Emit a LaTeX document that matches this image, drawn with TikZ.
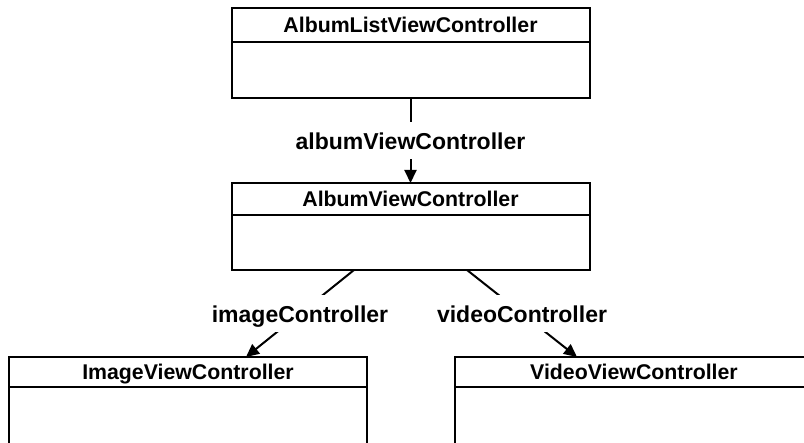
\documentclass[tikz,border=0pt]{standalone}
\usepackage{fontspec}
\setmainfont{Liberation Sans}
\usetikzlibrary{arrows.meta}
\begin{document}
\begin{tikzpicture}[x=1pt,y=-1pt,
  lw/.style={line width=2pt},
  hdrtxt/.style={font=\fontsize{21.3}{25}\bfseries\selectfont,text height=17pt,text depth=2pt},
  lbltxt/.style={font=\fontsize{23}{27}\bfseries\selectfont,text height=18pt,text depth=0pt},
  hdr/.style={draw,lw,outer sep=0pt,minimum width=358pt,inner sep=0pt,hdrtxt},
  bodybox/.style={draw,lw,outer sep=0pt,minimum width=358pt,inner sep=0pt,anchor=north},
  lbl/.style={fill=white,inner xsep=2pt,inner ysep=0pt,minimum height=37pt,lbltxt},
  arr/.style={lw,-{Triangle[length=13pt,width=12pt]}}]
\useasboundingbox (0,0) rectangle (804,443);
\clip (0,0) rectangle (804,443);
% top box
\node[hdr,minimum height=34pt] (alv) at (410.5,25) {AlbumListViewController};
\node[bodybox,minimum height=56pt] (alvb) at (alv.south) {};
% second box
\node[hdr,minimum height=32pt] (alb) at (410.5,199) {AlbumViewController};
\node[bodybox,minimum height=55pt] (albb) at (alb.south) {};
% bottom boxes
\node[hdr,minimum height=30pt] (img) at (188,372) {ImageViewController};
\node[bodybox,minimum height=90pt] (imgb) at (img.south) {};
\node[hdr,minimum height=30pt] (vid) at (634,372) {VideoViewController};
\node[bodybox,minimum height=90pt] (vidb) at (vid.south) {};
% connector end points
\coordinate (s2) at (354,270);
\coordinate (t2) at (246,357);
\coordinate (s3) at (467,270);
\coordinate (t3) at (577,357);
% connectors
\draw[arr] (alvb.south) -- node[lbl] (l1) {albumViewController} (alb.north);
\draw[arr] (s2) -- node[lbl] (l2) {imageController} (t2);
\draw[arr] (s3) -- node[lbl] (l3) {videoController} (t3);
\end{tikzpicture}
\end{document}
